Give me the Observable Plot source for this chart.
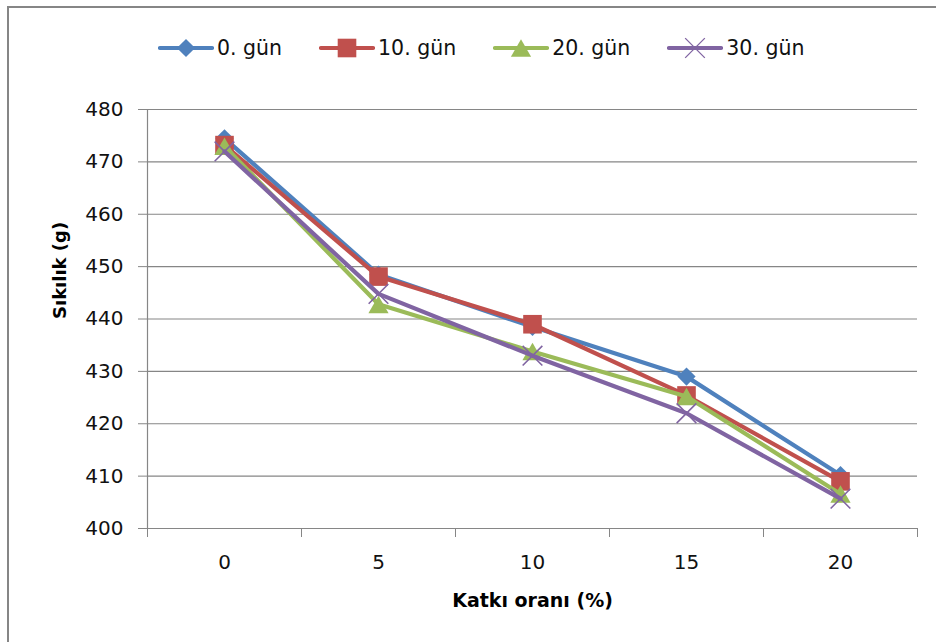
<!DOCTYPE html>
<html>
<head>
<meta charset="utf-8">
<script src="https://cdn.jsdelivr.net/npm/d3@7"></script>
<script src="https://cdn.jsdelivr.net/npm/@observablehq/plot@0.6"></script>
<style>
  html, body { margin: 0; padding: 0; background: #fff; }
  #wrap { position: relative; width: 936px; height: 642px; overflow: hidden; font-family: "DejaVu Sans", sans-serif; }
  #frame { position: absolute; left: 7px; top: 6px; width: 1000px; height: 1000px; border-top: 2px solid #868686; border-left: 2px solid #868686; }
  #legend { position: absolute; left: 158px; top: 33px; height: 30px; display: flex; align-items: center; font-size: 20.5px; color: #111; }
  .item { display: flex; align-items: center; margin-right: 37px; }
  .item svg { margin-right: 3px; }
  #chart { position: absolute; left: 0; top: 80px; }
</style>
</head>
<body>
<div id="wrap">
  <div id="frame"></div>
  <div id="legend"></div>
  <div id="chart"></div>
</div>
<script>
// ---- data ----
const katki = [0, 5, 10, 15, 20];
const gun0  = [474.5, 448.5, 438.5, 429.0, 410.2];
const gun10 = [473.2, 448.1, 439.0, 425.4, 409.0];
const gun20 = [473.0, 442.8, 433.8, 425.2, 406.6];
const gun30 = [472.0, 444.8, 433.0, 422.0, 405.7];
const seriesNames = ["0. gün", "10. gün", "20. gün", "30. gün"];
const seriesValues = [gun0, gun10, gun20, gun30];
const colors = ["#4F81BD", "#C0504D", "#9BBB59", "#8064A2"];
const symbols = ["diamond2", "square", "triangle", "times"];
const yTicks = [400, 410, 420, 430, 440, 450, 460, 470, 480];
const xBounds = [-2.5, 2.5, 7.5, 12.5, 17.5, 22.5];
const xLabel = "Katkı oranı (%)";
const yLabel = "Sıkılık (g)";

// marker sizing per series (style)
const markerR = [8.2, 10.5, 7.5, 9];
const markerDy = [0, 0, 3, 0];

const table = [];
seriesNames.forEach((s, i) => katki.forEach((k, j) => table.push({series: s, katki: k, value: seriesValues[i][j]})));

const grid = "#868686";
const marks = [
  Plot.ruleY(yTicks, {stroke: grid, strokeWidth: 1.2}),
  Plot.ruleX([xBounds[0]], {stroke: grid, strokeWidth: 1.2}),
  Plot.axisY({ticks: yTicks, tickSize: 9, tickPadding: 15, stroke: grid, fill: "#111", label: null, fontSize: 20}),
  Plot.axisX({ticks: xBounds, tickSize: 9, tickFormat: () => "", stroke: grid, label: null}),
  Plot.axisX({ticks: katki, tickSize: 0, tickPadding: 26, fill: "#111", label: null, fontSize: 20}),
  Plot.text([yLabel], {text: d => d, frameAnchor: "left", dx: -87, rotate: -90, fontWeight: "bold", fontSize: 18, fill: "#000"}),
  Plot.text([xLabel], {text: d => d, frameAnchor: "bottom", dy: 78, fontWeight: "bold", fontSize: 19, fill: "#000"})
];
seriesNames.forEach((s, i) => {
  const rows = table.filter(d => d.series === s);
  marks.push(Plot.line(rows, {x: "katki", y: "value", stroke: colors[i], strokeWidth: 4.2}));
  const isStroke = symbols[i] === "times";
  marks.push(Plot.dot(rows, {
    x: "katki", y: "value", symbol: () => symbols[i], r: markerR[i], dy: markerDy[i],
    fill: isStroke ? "none" : colors[i],
    stroke: isStroke ? colors[i] : "none",
    strokeWidth: isStroke ? 1.6 : 0
  }));
});

const chart = Plot.plot({
  width: 936, height: 562,
  marginTop: 29, marginBottom: 114, marginLeft: 147, marginRight: 19,
  style: {fontFamily: "DejaVu Sans, sans-serif", fontSize: "20px", color: "#111", background: "transparent", overflow: "visible"},
  x: {type: "linear", domain: [xBounds[0], xBounds[xBounds.length - 1]]},
  y: {domain: [400, 480]},
  symbol: {type: "identity"},
  marks
});
document.getElementById("chart").appendChild(chart);

// ---- legend ----
const legend = d3.select("#legend");
seriesNames.forEach((s, i) => {
  const it = legend.append("div").attr("class", "item");
  const sv = it.append("svg").attr("width", 56).attr("height", 26);
  sv.append("line").attr("x1", 2).attr("x2", 54).attr("y1", 13).attr("y2", 13)
    .attr("stroke", colors[i]).attr("stroke-width", 4.2).attr("stroke-linecap", "round");
  const sym = {diamond2: d3.symbolDiamond2, square: d3.symbolSquare, triangle: d3.symbolTriangle, times: d3.symbolTimes}[symbols[i]];
  const isStroke = symbols[i] === "times";
  sv.append("path").attr("transform", `translate(28,${13 + markerDy[i]})`)
    .attr("d", d3.symbol(sym, Math.PI * markerR[i] * markerR[i])())
    .attr("fill", isStroke ? "none" : colors[i])
    .attr("stroke", isStroke ? colors[i] : "none")
    .attr("stroke-width", 1.3);
  it.append("span").text(s);
});
</script>
</body>
</html>
